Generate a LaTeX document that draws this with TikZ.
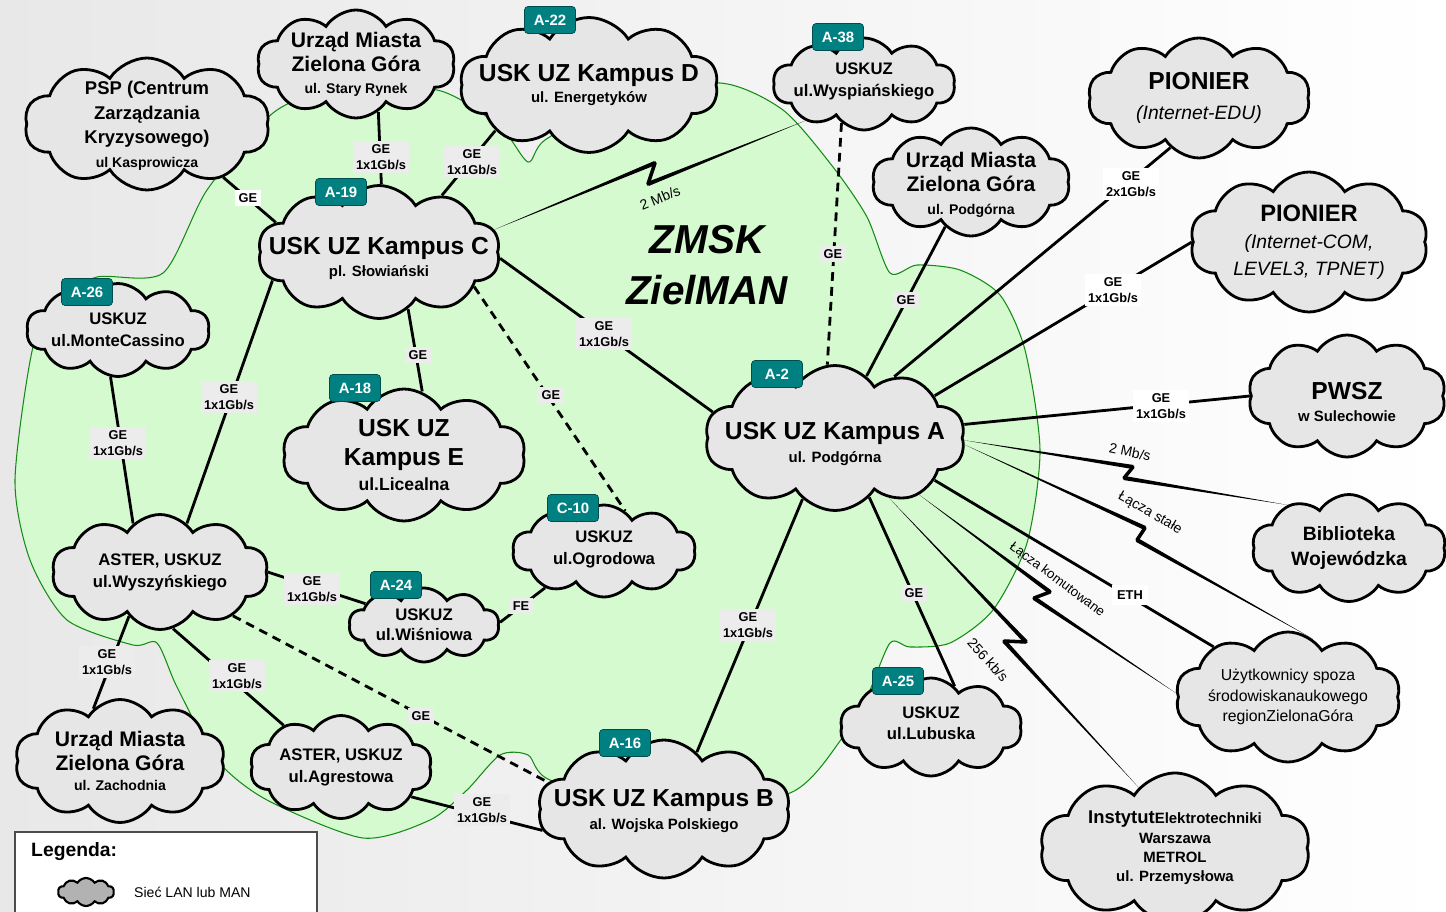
\documentclass[tikz,border=0pt]{standalone}
\usepackage{fontspec}
\setmainfont{Liberation Sans}
\usetikzlibrary{shapes.symbols,calc,positioning}
\definecolor{tagteal}{RGB}{0,128,128}
\definecolor{zone}{RGB}{214,250,208}
\definecolor{zoneline}{RGB}{20,140,20}
\definecolor{cloudfill}{RGB}{230,230,230}
\newcommand{\fsz}[2]{\fontsize{#1}{#2}\selectfont}
% cloud node: name, position (px), width, height, text options, text
\newcommand{\lannode}[6]{\node[lan,minimum width=#3*0.02cm,minimum height=#4*0.02cm] (#1) at (#2) {};
  \node[lantext,#5] (#1t) at (#1) {#6};}
% lightning link: start, zig 1, zig 2, end
\newcommand{\zigzap}[4]{%
  \fill (#1) -- ($(#2)!1.2pt!90:(#1)$) -- ($(#2)!1.2pt!-90:(#1)$) -- cycle;
  \draw[line width=2pt,line cap=round] (#2) -- (#3);
  \fill (#4) -- ($(#3)!1.2pt!90:(#4)$) -- ($(#3)!1.2pt!-90:(#4)$) -- cycle;}
\tikzset{
  lan/.style={cloud,cloud puffs=10,cloud puff arc=115,cloud ignores aspect,
    draw,line width=1.6pt,fill=cloudfill,inner sep=0pt},
  lantext/.style={align=center,inner sep=0pt},
  big/.style={font=\bfseries\fsz{14}{16}},
  mid/.style={font=\bfseries\fsz{12}{14}},
  small/.style={font=\bfseries\fsz{9.5}{12.5}},
  link/.style={line width=1.6pt},
  dlink/.style={link,dash pattern=on 5pt off 3.5pt},
  lbl/.style={fill=gray!15,font=\bfseries\fsz{7.3}{9.2},align=center,inner sep=2pt},
  lblw/.style={lbl,fill=white},
  tag/.style={fill=tagteal,draw=tagteal!60!black,rounded corners=2pt,text=white,
    font=\bfseries\fsz{8.5}{10},minimum width=1.02cm,minimum height=0.54cm,inner sep=1pt},
  rate/.style={font=\fsz{8}{10}},
}
\begin{document}
\begin{tikzpicture}[x=0.02cm,y=-0.02cm]
\useasboundingbox (0,0) rectangle (1446,912);
\shade[left color=black!9,right color=white] (0,0) rectangle (1446,912);

% ZielMAN area
\filldraw[fill=zone,draw=zoneline,line width=0.6pt] plot[smooth cycle,tension=0.45] coordinates {
  (163,273) (207,190) (273,113) (330,92) (437,90) (500,127) (528,162) (545,140)
  (620,100) (720,83) (783,110) (833,167) (867,217) (890,273) (917,265) (960,270)
  (1000,295) (1025,350) (1040,450) (1027,543) (993,610) (950,643) (910,647)
  (890,643) (867,697) (843,737) (790,793) (660,810) (550,780) (528,755) (500,755)
  (467,790) (430,820) (363,838) (267,800) (217,760) (177,687) (157,643) (133,645)
  (67,620) (30,560) (15,480) (33,347) (60,300) (97,277)};

\node[font=\bfseries\itshape\fsz{23}{26}] (zmsk) at (707,240) {ZMSK};
\node[font=\bfseries\itshape\fsz{23}{26}] (zielman) at (707,290) {ZielMAN};

% networks
\lannode{psp}{147,124}{245}{132}{font=\bfseries\fsz{10.5}{13.8},yshift=-1.2pt}{PSP (Centrum\\Zarządzania\\Kryzysowego)\\\fsz{8}{10}ul Kasprowicza}
\lannode{umTop}{356,64}{198}{108}{mid}{Urząd Miasta\\Zielona Góra\\[-2pt]\fsz{8}{10}ul. Stary Rynek}
\lannode{kampD}{589,85}{258}{135}{big}{USK UZ Kampus D\\[-4pt]\fsz{8.5}{10}ul. Energetyków}
\lannode{wysp}{864,84}{182}{92}{small,yshift=1.4pt}{USKUZ\\ul.Wyspiańskiego}
\lannode{pionEdu}{1199,98}{222}{120}{font=\fsz{11}{17}\itshape}{{\bfseries\upshape\fsz{14}{16}PIONIER}\\(Internet-EDU)}
\lannode{umPodg}{971,182}{198}{108}{mid,yshift=-1.5pt}{Urząd Miasta\\Zielona Góra\\[-1pt]\fsz{8}{10}ul. Podgórna}
\lannode{pionCom}{1309,242}{238}{140}{font=\fsz{11}{15.5}\itshape}{{\bfseries\upshape\fsz{13.5}{16}PIONIER}\\(Internet-COM,\\LEVEL3, TPNET)}
\lannode{kampC}{379,252}{242}{133}{big,yshift=-3.7pt}{USK UZ Kampus C\\[-3.5pt]\fsz{8.5}{10}pl. Słowiański}
\lannode{monte}{118,330}{183}{93}{small}{USKUZ\\ul.MonteCassino}
\lannode{kampE}{404,455}{243}{132}{font=\bfseries\fsz{14}{16.5}}{USK UZ\\Kampus E\\[-2.5pt]\fsz{10}{12}ul.Licealna}
\lannode{kampA}{835,438}{260}{145}{big,yshift=-3.4pt}{USK UZ Kampus A\\[-3pt]\fsz{8.5}{10}ul. Podgórna}
\lannode{pwsz}{1347,396}{198}{122}{big,yshift=-3.4pt}{PWSZ\\[-3pt]\fsz{8.5}{10}w Sulechowie}
\lannode{ogrod}{604,551}{183}{92}{small,yshift=1pt}{USKUZ\\ul.Ogrodowa}
\lannode{aster}{160,572}{216}{115}{small}{ASTER, USKUZ\\ul.Wyszyńskiego}
\lannode{wisn}{424,625}{150}{74}{font=\bfseries\fsz{9.5}{11.5}}{USKUZ\\ul.Wiśniowa}
\lannode{bibl}{1349,548}{194}{107}{font=\bfseries\fsz{11}{14}}{Biblioteka\\Wojewódzka}
\lannode{uzytk}{1288,697}{225}{130}{font=\fsz{9}{11.6}}{Użytkownicy spoza\\środowiskanaukowego\\regionZielonaGóra}
\lannode{lubusk}{931,727}{182}{98}{font=\bfseries\fsz{9.5}{12},yshift=2pt}{USKUZ\\ul.Lubuska}
\lannode{umZach}{120,761}{210}{123}{mid}{Urząd Miasta\\Zielona Góra\\[-2.5pt]\fsz{8}{10}ul. Zachodnia}
\lannode{asterAg}{341,767}{182}{103}{small}{ASTER, USKUZ\\ul.Agrestowa}
\lannode{kampB}{664,809}{252}{138}{big,yshift=-1pt}{USK UZ Kampus B\\[-3pt]\fsz{8.5}{10}al. Wojska Polskiego}
\lannode{inst}{1175,848}{270}{150}{font=\bfseries\fsz{8.5}{11}}{{\fsz{10.5}{12}Instytut}Elektrotechniki\\Warszawa\\METROL\\ul. Przemysłowa}

% links
\draw[link] (psp.-35) -- (kampC.164);
\draw[link] (umTop.-65) -- (kampC.88);
\draw[link] (kampD.-154) -- (kampC.42);
\draw[dlink] (wysp.-120) -- (kampA.96);
\draw[link] (kampC.-3) -- (kampA.168);
\draw[dlink] (kampC.-20) -- (ogrod.62);
\draw[link] (kampC.-63) -- (kampE.74);
\draw[link] (kampC.-165) -- (aster.61);
\draw[link] (monte.-99) -- (aster.119);
\draw[link] (umPodg.-120) -- (kampA.63);
\draw[link] (pionEdu.-120) -- (kampA.46);
\draw[link] (pionCom.180) -- (kampA.23);
\draw[link] (pwsz.180) -- (kampA.6);
\draw[link] (kampA.-23) -- (uzytk.146);
\draw[link] (kampA.-60) -- (lubusk.60);
\draw[link] (kampA.-118) -- (kampB.60);
\draw[link] (ogrod.-148) -- (wisn.2);
\draw[link] (aster.0) -- (wisn.160);
\draw[dlink] (aster.-31) -- (kampB.167);
\draw[link] (aster.-125) -- (umZach.117);
\draw[link] (aster.-77) -- (asterAg.144);
\draw[link] (asterAg.-23) -- (kampB.190);
\zigzap{kampC.11}{655,163}{648,184}{wysp.-148}
\zigzap{kampA.-1}{1133,467}{1124,478}{bibl.145}
\zigzap{kampA.-3}{1145,528}{1137,540}{uzytk.67}
\zigzap{kampA.-34}{1050,592}{1034,598}{uzytk.178}
\zigzap{kampA.-48}{1026,642}{1004,641}{inst.121}

% link labels
\node[lblw] (lPsp) at (248,198) {GE};
\node[lbl] (lUm) at (381,157) {GE\\1x1Gb/s};
\node[lbl] (lKd) at (472,162) {GE\\1x1Gb/s};
\node[lbl] (lWy) at (833,254) {GE};
\node[lbl] (lCA) at (604,334) {GE\\1x1Gb/s};
\node[lbl] (lOg) at (551,395) {GE};
\node[lbl] (lKe) at (418,355) {GE};
\node[lbl] (lAs) at (229,397) {GE\\1x1Gb/s};
\node[lbl] (lMo) at (118,443) {GE\\1x1Gb/s};
\node[lbl] (lUp) at (906,300) {GE};
\node[lblw] (lPe) at (1131,184) {GE\\2x1Gb/s};
\node[lblw] (lPc) at (1113,290) {GE\\1x1Gb/s};
\node[lblw] (lPw) at (1161,406) {GE\\1x1Gb/s};
\node[lblw,inner sep=3pt] (lEth) at (1130,595) {ETH};
\node[lbl] (lLu) at (914,593) {GE};
\node[lbl] (lKb) at (748,625) {GE\\1x1Gb/s};
\node[lbl] (lFe) at (521,606) {FE};
\node[lbl] (lWi) at (312,589) {GE\\1x1Gb/s};
\node[lbl] (lAb) at (421,716) {GE};
\node[lbl] (lZa) at (107,662) {GE\\1x1Gb/s};
\node[lbl] (lAg) at (237,676) {GE\\1x1Gb/s};
\node[lbl] (lAgB) at (482,810) {GE\\1x1Gb/s};

\node[rate,rotate=22] (r1) at (660,198) {2 Mb/s};
\node[rate,rotate=-12] (r2) at (1130,452) {2 Mb/s};
\node[rate,rotate=-30] (r3) at (1150,513) {Łącza stałe};
\node[rate,rotate=-37,font=\fsz{7.6}{9}] (r4) at (1057,580) {Łącza komutowane};
\node[rate,rotate=-48] (r5) at (988,660) {256 kb/s};

% building tags
\node[tag] (tA22) at (550,20) {A-22};
\node[tag] (tA38) at (838,37) {A-38};
\node[tag] (tA19) at (341,192) {A-19};
\node[tag] (tA26) at (87,292) {A-26};
\node[tag] (tA18) at (355,388) {A-18};
\node[tag] (tA2) at (777,374) {A-2};
\node[tag] (tC10) at (573,508) {C-10};
\node[tag] (tA24) at (396,585) {A-24};
\node[tag] (tA25) at (898,681) {A-25};
\node[tag] (tA16) at (625,743) {A-16};

% legend
\draw[draw=gray!60!black,fill=white,line width=0.8pt] (15,832) rectangle (317,940);
\node[font=\bfseries\fsz{11}{13},anchor=west] (legT) at (25,852) {Legenda:};
\node[lan,fill=gray!60,minimum width=1.12cm,minimum height=0.56cm,line width=1.2pt] (legC) at (86,892) {};
\node[font=\fsz{8}{10},anchor=west] (legL) at (128,892) {Sieć LAN lub MAN};
\end{tikzpicture}
\end{document}
